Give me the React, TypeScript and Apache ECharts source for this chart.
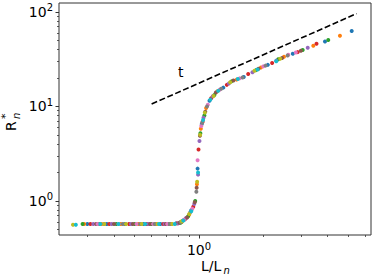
import { useEffect, useRef } from "react";
import * as echarts from "echarts";

const FONT = "DejaVu Sans";
const COLORS = ["#1f77b4", "#ff7f0e", "#2ca02c", "#d62728", "#9467bd", "#8c564b", "#e377c2", "#7f7f7f", "#bcbd22", "#17becf"];

const s0 = [[0.30,0.57],[0.37,0.57],[0.45,0.57],[0.55,0.57],[0.66,0.57],[0.78,0.58],[0.84,0.62],[0.92,0.80],[0.985,2.2],[1.03,6.5],[1.12,11.5],[1.30,15.8],[1.62,20.5],[2.1,27.5],[2.75,36.0],[3.89,48.6],[5.19,62.8]];
const s1 = [[0.29,0.57],[0.35,0.57],[0.43,0.57],[0.52,0.57],[0.63,0.57],[0.74,0.57],[0.83,0.60],[0.90,0.72],[0.978,1.5],[1.02,5.8],[1.08,9.6],[1.22,14.5],[1.5,19.2],[1.95,25.8],[2.5,33.5],[3.43,43.7],[4.57,55.9]];
const s2 = [[0.285,0.57],[0.34,0.57],[0.41,0.57],[0.50,0.57],[0.60,0.57],[0.72,0.57],[0.82,0.59],[0.89,0.69],[0.96,1.0],[1.015,5.2],[1.06,8.0],[1.18,13.2],[1.42,18.4],[1.85,24.2],[2.35,31.5],[3.06,39.5],[4.03,50.4]];
const s3 = [[0.31,0.57],[0.38,0.57],[0.47,0.57],[0.57,0.57],[0.68,0.57],[0.79,0.58],[0.86,0.64],[0.94,0.87],[0.995,3.5],[1.04,6.9],[1.14,12.2],[1.35,16.9],[1.7,22.0],[2.2,28.8],[2.9,37.5],[3.55,45.9]];
const s4 = [[0.32,0.57],[0.39,0.57],[0.48,0.57],[0.58,0.57],[0.69,0.57],[0.80,0.58],[0.87,0.66],[0.95,0.93],[0.99,1.9],[1.005,4.3],[1.05,7.6],[1.16,12.8],[1.38,17.5],[1.78,23.0],[2.3,30.5],[3.23,41.7]];
const s5 = [[0.33,0.57],[0.40,0.57],[0.49,0.57],[0.59,0.57],[0.70,0.57],[0.81,0.59],[0.88,0.67],[0.955,0.97],[0.975,1.38],[1.01,4.9],[1.07,8.8],[1.2,14.0],[1.45,18.8],[1.9,25.0],[2.45,32.5],[3.0,38.7]];
const s6 = [[0.335,0.57],[0.42,0.57],[0.51,0.57],[0.61,0.57],[0.71,0.57],[0.85,0.63],[0.93,0.83],[0.985,2.7],[1.025,6.2],[1.1,10.4],[1.25,15.0],[1.55,19.8],[2.0,26.5],[2.62,35.2],[2.84,37.1]];
const s7 = [[0.36,0.57],[0.44,0.57],[0.53,0.57],[0.62,0.57],[0.73,0.57],[0.82,0.60],[0.91,0.76],[0.972,1.25],[1.035,6.7],[1.09,10.0],[1.27,15.4],[1.6,20.2],[2.05,27.0],[2.6,34.5]];
const s8 = [[0.257,0.56],[0.36,0.57],[0.455,0.57],[0.54,0.57],[0.64,0.57],[0.75,0.57],[0.83,0.61],[0.90,0.73],[0.98,1.6],[1.012,5.0],[1.065,8.6],[1.17,12.9],[1.4,18.0],[1.82,23.8],[2.4,31.9]];
const s9 = [[0.265,0.56],[0.345,0.57],[0.42,0.57],[0.56,0.57],[0.65,0.57],[0.77,0.57],[0.845,0.62],[0.92,0.78],[0.99,2.0],[1.045,7.2],[1.13,11.8],[1.23,14.6],[1.52,19.5],[1.88,24.6],[2.3,30.0]];
const SERIES_DATA = [s0, s1, s2, s3, s4, s5, s6, s7, s8, s9];

const trendX = [0.6, 5.47];
const trendY = [10.6, 95.7];

const xMajor = [1];
const xMinor = [0.3, 0.4, 0.5, 0.6, 0.7, 0.8, 0.9, 2, 3, 4, 5, 6];
const yMajor = [1, 10, 100];
const yMinor = [0.5, 0.6, 0.7, 0.8, 0.9, 2, 3, 4, 5, 6, 7, 8, 9, 20, 30, 40, 50, 60, 70, 80, 90];

const X_MIN = 0.221, X_MAX = 6.39, Y_MIN = 0.437, Y_MAX = 124;

const AXIS_COLOR = "#333";

const labelRich = {
  b: { fontSize: 14, fontFamily: FONT, color: "#000" },
  s: { fontSize: 10, fontFamily: FONT, color: "#000", padding: [0, 0, 8, 0] },
};
const fmtPow = (v: number) => `{b|10}{s|${Math.round(Math.log10(v))}}`;

export default function App() {
  const ref = useRef<HTMLDivElement>(null);
  useEffect(() => {
    if (!ref.current) return;
    const chart = echarts.init(ref.current, undefined, { renderer: "svg" });
    const scatterSeries = SERIES_DATA.map((d, i) => ({
      type: "scatter",
      data: d,
      symbolSize: 4,
      itemStyle: { color: COLORS[i], opacity: 1 },
      xAxisIndex: 0,
      yAxisIndex: 0,
      z: 2 + i,
    }));
    chart.setOption({
      animation: false,
      grid: { left: 59, right: 3, top: 3, bottom: 45, show: true, borderColor: AXIS_COLOR, borderWidth: 1, containLabel: false, outerBoundsMode: "none" },
      xAxis: [
        {
          type: "log", logBase: 10, min: X_MIN, max: X_MAX,
          axisLine: { show: false },
          axisTick: { show: true, customValues: xMajor, length: 3.5, inside: false, lineStyle: { color: AXIS_COLOR, width: 1 } },
          axisLabel: { show: true, customValues: xMajor, formatter: fmtPow, rich: labelRich, margin: 6 },
          splitLine: { show: false },
        },
        {
          type: "log", logBase: 10, min: X_MIN, max: X_MAX, position: "bottom",
          axisLine: { show: false },
          axisTick: { show: true, customValues: xMinor, length: 2, inside: false, lineStyle: { color: AXIS_COLOR, width: 0.8 } },
          axisLabel: { show: false },
          splitLine: { show: false },
        },
      ],
      yAxis: [
        {
          type: "log", logBase: 10, min: Y_MIN, max: Y_MAX,
          axisLine: { show: false },
          axisTick: { show: true, customValues: yMajor, length: 3.5, inside: false, lineStyle: { color: AXIS_COLOR, width: 1 } },
          axisLabel: { show: true, customValues: yMajor, formatter: fmtPow, rich: labelRich, margin: 6 },
          splitLine: { show: false },
        },
        {
          type: "log", logBase: 10, min: Y_MIN, max: Y_MAX, position: "left",
          axisLine: { show: false },
          axisTick: { show: true, customValues: yMinor, length: 2, inside: false, lineStyle: { color: AXIS_COLOR, width: 0.8 } },
          axisLabel: { show: false },
          splitLine: { show: false },
        },
      ],
      series: [
        ...scatterSeries,
        {
          type: "line",
          data: trendX.map((x, i) => [x, trendY[i]]),
          showSymbol: false,
          symbol: "none",
          lineStyle: { color: "#000", width: 1.6, type: [6, 2.6] },
          xAxisIndex: 0,
          yAxisIndex: 0,
          z: 20,
        },
      ],
      graphic: [
        { type: "text", left: 178, top: 65, style: { text: "t", fontSize: 14, fontFamily: FONT, fill: "#000" } },
        {
          type: "group",
          x: 201,
          y: 266,
          children: [
            { type: "text", x: 0, y: 0, style: { text: "L/L", fontSize: 14, fontFamily: FONT, fill: "#000", align: "left", verticalAlign: "middle" } },
            { type: "text", x: 22.5, y: 4, style: { text: "n", fontSize: 10, fontFamily: FONT, fontStyle: "italic", fill: "#000", align: "left", verticalAlign: "middle" } },
          ],
        },
        {
          type: "group",
          x: 11,
          y: 119,
          rotation: Math.PI / 2,
          children: [
            { type: "text", x: -12, y: 0, style: { text: "R", fontSize: 14, fontFamily: FONT, fill: "#000", align: "left", verticalAlign: "middle" } },
            { type: "text", x: 0, y: -6, style: { text: "*", fontSize: 11, fontFamily: FONT, fill: "#000", align: "left", verticalAlign: "middle" } },
            { type: "text", x: 0, y: 5, style: { text: "n", fontSize: 10, fontFamily: FONT, fontStyle: "italic", fill: "#000", align: "left", verticalAlign: "middle" } },
          ],
        },
      ],
    });
    return () => chart.dispose();
  }, []);
  return <div ref={ref} style={{ position: "absolute", left: 0, top: 0, width: 374, height: 280 }} />;
}
